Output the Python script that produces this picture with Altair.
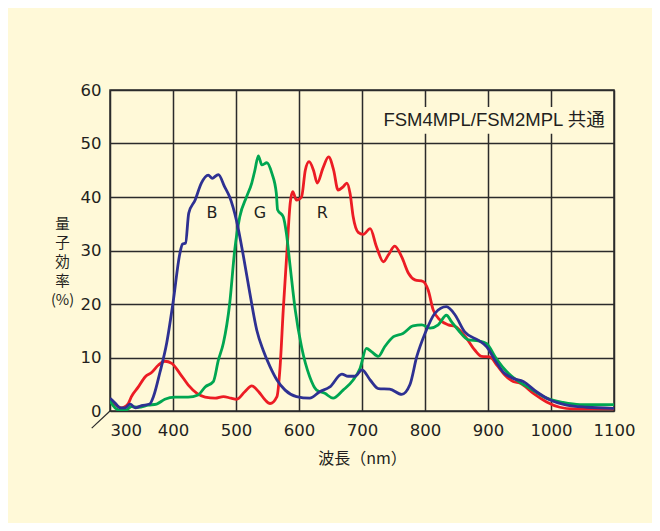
import altair as alt
import pandas as pd

# ---- data ----
blue_nm = [300, 308, 316, 324, 332, 340, 350, 363, 369, 379, 390, 400, 411, 415, 420, 425, 435, 445, 456, 462, 472, 482, 490, 501, 512, 522, 533, 543, 554, 565, 578, 596, 617, 633, 649, 668, 678, 689, 700, 713, 726, 744, 763, 776, 787, 800, 816, 834, 848, 863, 885, 898, 911, 924, 940, 956, 977, 998, 1025, 1057, 1100]
blue_v = [2.4, 1.5, 0.6, 0.6, 1.3, 0.6, 1.0, 1.3, 2.7, 7.1, 12.7, 20.2, 29.5, 31.2, 31.4, 37.0, 39.4, 42.6, 44.1, 43.5, 44.2, 41.9, 40.0, 35.5, 28.8, 22.0, 15.1, 11.4, 8.3, 5.8, 3.9, 2.7, 2.4, 3.6, 4.5, 6.9, 6.5, 6.5, 7.7, 5.8, 4.2, 4.1, 3.1, 4.9, 10.2, 14.5, 18.3, 19.5, 17.9, 14.8, 13.2, 12.0, 9.5, 7.3, 6.1, 5.5, 3.6, 2.1, 1.1, 0.7, 0.5]

green_nm = [300, 305, 313, 324, 334, 345, 361, 374, 387, 403, 424, 440, 451, 464, 472, 480, 490, 498, 506, 517, 525, 530, 535.5, 541, 549, 557, 564, 566, 575, 580, 586, 594, 604, 617, 628, 641, 654, 670, 686, 697, 707, 715, 726, 736, 750, 765, 781, 795, 808, 821, 834, 842, 853, 869, 885, 898, 911, 927, 945, 967, 993, 1019, 1046, 1100]
green_v = [2.0, 1.0, 0.2, 0.1, 0.8, 0.7, 1.1, 1.3, 2.2, 2.6, 2.6, 3.0, 4.5, 5.5, 9.5, 12.7, 20.1, 30.1, 36.3, 40.1, 42.6, 45.0, 47.7, 46.0, 46.4, 44.4, 40.7, 37.6, 36.3, 33.2, 27.0, 18.9, 12.0, 6.4, 3.9, 3.3, 2.4, 3.9, 5.8, 8.0, 11.7, 11.1, 10.2, 12.0, 13.9, 14.5, 15.9, 16.1, 15.5, 16.1, 17.9, 16.7, 15.1, 13.3, 13.1, 12.6, 10.2, 7.7, 5.8, 4.2, 2.4, 1.6, 1.2, 1.2]

red_nm = [300, 308, 318, 329, 334, 345, 356, 366, 377, 387, 398, 411, 424, 438, 451, 467, 480, 492, 501, 514, 525, 536, 546, 554, 565, 570, 575, 581, 586, 590, 596, 604, 610, 616, 623, 629, 638, 647, 655, 662, 670, 676, 681, 686, 694, 702, 713, 723, 734, 742, 752, 763, 774, 784, 797, 805, 813, 824, 837, 848, 864, 879, 890, 903, 914, 927, 940, 951, 972, 993, 1014, 1035, 1100]
red_v = [1.7, 1.2, 0.6, 1.4, 2.7, 4.5, 6.4, 7.2, 8.6, 9.3, 8.9, 7.0, 4.9, 3.3, 2.6, 2.4, 2.7, 2.4, 2.2, 3.6, 4.7, 3.6, 2.1, 1.4, 2.7, 8.3, 18.9, 30.1, 38.8, 41.0, 39.4, 40.0, 45.0, 46.6, 45.0, 42.6, 45.4, 47.5, 45.0, 41.3, 41.9, 42.6, 40.7, 36.3, 33.4, 33.0, 34.1, 30.7, 27.9, 29.2, 30.8, 28.8, 25.7, 24.5, 24.2, 22.6, 18.9, 17.0, 16.1, 15.8, 13.9, 11.4, 10.2, 10.1, 8.6, 6.7, 5.5, 5.2, 3.3, 1.7, 0.7, 0.4, 0.4]

x_ticks = [300, 400, 500, 600, 700, 800, 900, 1000, 1100]
y_ticks = [0, 10, 20, 30, 40, 50, 60]

curve_labels = ["B", "G", "R"]
curve_label_x = [462, 538, 637]
curve_label_y = [37.0, 37.0, 37.0]

note_text = "FSM4MPL/FSM2MPL 共通"

BG = "#FFF9D8"
INK = "#231F20"
GRID = "#2B2B2B"
LATIN = "DejaVu Sans"
CJK = "Noto Sans CJK JP"

xs = alt.Scale(domain=[300, 1100], nice=False, zero=False)
ys = alt.Scale(domain=[0, 60], nice=False, zero=False)

x_axis = alt.Axis(
    values=x_ticks, format="d", grid=True, ticks=False, domain=False,
    labelFont=LATIN, labelFontSize=16.5, labelColor=INK, labelPadding=11,
    labelAlign={"condition": {"test": "datum.value == 300", "value": "left"}, "value": "center"},
    labelFlush=False, labelOverlap=False,
    title="波長（nm）", titleFont=CJK, titleFontSize=16, titleFontWeight="normal",
    titleColor=INK, titleY=52, titleBaseline="alphabetic",
)
y_axis = alt.Axis(
    values=y_ticks, format="d", grid=True, ticks=False, domain=False,
    labelFont=LATIN, labelFontSize=16.5, labelColor=INK, labelPadding=9,
    labelFlush=False, labelOverlap=False,
    title=["量", "子", "効", "率", "(%)"], titleFont=CJK, titleFontSize=14.5,
    titleFontWeight="normal", titleColor=INK, titleAngle=0, titleAlign="center",
    titleBaseline="alphabetic", titleX=-48, titleY=138, titleLineHeight=19,
)


def curve(nm, v, color):
    df = pd.DataFrame({"nm": nm, "v": v})
    return alt.Chart(df).mark_line(
        color=color, strokeWidth=2.8, interpolate="monotone", clip=True
    ).encode(
        x=alt.X("nm:Q", scale=xs, axis=x_axis),
        y=alt.Y("v:Q", scale=ys, axis=y_axis),
    )


red = curve(red_nm, red_v, "#EC1C24")
green = curve(green_nm, green_v, "#00A651")
blue = curve(blue_nm, blue_v, "#2E3192")

lbl_df = pd.DataFrame({"t": curve_labels, "x": curve_label_x, "y": curve_label_y})
labels = alt.Chart(lbl_df).mark_text(
    font=LATIN, fontSize=16, color=INK, align="center", baseline="middle"
).encode(x=alt.X("x:Q", scale=xs), y=alt.Y("y:Q", scale=ys), text="t:N")

note_box_df = pd.DataFrame({"x": [725], "x2": [1094], "y": [51.8], "y2": [56.8]})
note_box = alt.Chart(note_box_df).mark_rect(fill=BG).encode(
    x=alt.X("x:Q", scale=xs), x2="x2:Q", y=alt.Y("y:Q", scale=ys), y2="y2:Q"
)
note_df = pd.DataFrame({"x": [734], "y": [54.4], "t": [note_text]})
note = alt.Chart(note_df).mark_text(
    font="Liberation Sans, " + CJK, fontSize=18.5, color=INK, align="left", baseline="middle"
).encode(x=alt.X("x:Q", scale=xs), y=alt.Y("y:Q", scale=ys), text="t:N")

brk_df = pd.DataFrame({"x": [300], "x2": [271], "y": [0], "y2": [-3.2]})
brk = alt.Chart(brk_df).mark_rule(color=GRID, strokeWidth=1.2, clip=False).encode(
    x=alt.X("x:Q", scale=xs), x2="x2:Q", y=alt.Y("y:Q", scale=ys), y2="y2:Q"
)

chart = alt.layer(note_box, red, green, blue, labels, note, brk).properties(
    width=504, height=321,
    autosize=alt.AutoSizeParams(type="none"),
    padding={"left": 102, "top": 82, "right": 38, "bottom": 112},
    background=BG,
).configure_view(
    fill=BG, stroke=GRID, strokeWidth=1.5
).configure_axis(
    gridColor=GRID, gridWidth=1.5, gridOpacity=1
)

chart.save("out.html", embed_options={"renderer": "svg", "actions": False})
